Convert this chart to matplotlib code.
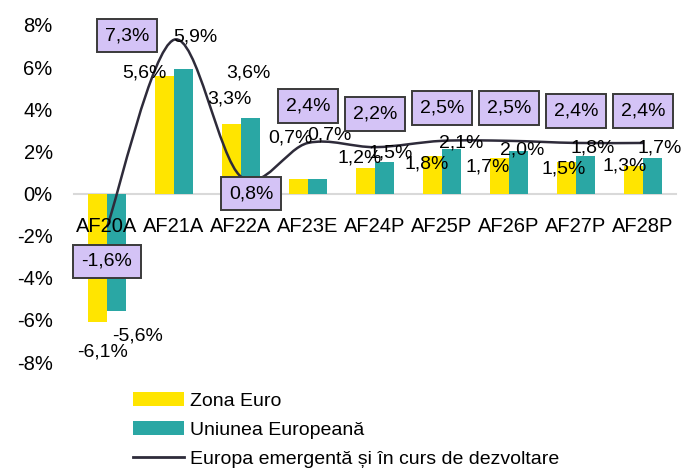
import matplotlib
matplotlib.use('Agg')
import matplotlib.pyplot as plt
from matplotlib.path import Path
from matplotlib.patches import PathPatch
from matplotlib import font_manager

# data (%)
categories = ['AF20A', 'AF21A', 'AF22A', 'AF23E', 'AF24P', 'AF25P', 'AF26P', 'AF27P', 'AF28P']
zona_euro = [-6.1, 5.6, 3.3, 0.7, 1.2, 1.8, 1.7, 1.5, 1.3]
uniunea_europeana = [-5.6, 5.9, 3.6, 0.7, 1.5, 2.1, 2.0, 1.8, 1.7]
europa_emergenta = [-1.6, 7.3, 0.8, 2.4, 2.2, 2.5, 2.5, 2.4, 2.4]
y_ticks = [-8, -6, -4, -2, 0, 2, 4, 6, 8]
legend_labels = ['Zona Euro', 'Uniunea Europeană', 'Europa emergentă și în curs de dezvoltare']

# label placement (offset in pixels from the point / bar end)
off_ze = [(5, -30), (-20, 3), (-2, 25), (-8, 41), (-6, 10), (-6, -8), (-12, -9), (-3, -7), (-9, 0)]
off_ue = [(21, -25), (12, 32), (-2, 45), (12, 44), (6, 9), (10, 6), (4, 1), (7, 8), (7, 10)]
off_em = [(0, -34), (-47, 4), (10, -17), (0, 37), (0, 33), (0, 33), (0, 33), (0, 32), (0, 32)]

YELLOW = '#FFE500'
TEAL = '#2AA7A4'
LINE = '#2E2B3A'
BOX = '#D4C3F6'

names = {f.name for f in font_manager.fontManager.ttflist}
if 'Liberation Sans Narrow' in names:
    narrow = 'Liberation Sans Narrow'
    big, mid = 17, 16
else:
    narrow = 'Liberation Sans'
    big, mid = 14.5, 14
plt.rcParams['font.family'] = ['Liberation Sans', 'DejaVu Sans']


def fmt(v):
    return f'{v:.1f}'.replace('.', ',') + '%'


fig = plt.figure(figsize=(6.84, 4.71), dpi=100)
ax = fig.add_axes([73.5 / 684, 1 - 362 / 471, 603 / 684, 337 / 471])

# zero line = bottom spine moved to 0 (do this before styling the ticks)
for s in ['top', 'right', 'left']:
    ax.spines[s].set_visible(False)
ax.spines['bottom'].set_position(('data', 0))
ax.spines['bottom'].set_color('#D9D9D9')
ax.spines['bottom'].set_linewidth(1.5)

x = list(range(len(categories)))
w = 0.285
b1 = ax.bar([i - w / 2 for i in x], zona_euro, w, color=YELLOW, zorder=3, label=legend_labels[0])
b2 = ax.bar([i + w / 2 for i in x], uniunea_europeana, w, color=TEAL, zorder=3, label=legend_labels[1])

# smoothed line like excel (catmull-rom as cubic bezier)
pts = list(zip(x, europa_emergenta))
verts = [pts[0]]
codes = [Path.MOVETO]
n = len(pts)
for i in range(n - 1):
    p0 = pts[max(i - 1, 0)]
    p1 = pts[i]
    p2 = pts[i + 1]
    p3 = pts[min(i + 2, n - 1)]
    c1 = (p1[0] + (p2[0] - p0[0]) / 6, p1[1] + (p2[1] - p0[1]) / 6)
    c2 = (p2[0] - (p3[0] - p1[0]) / 6, p2[1] - (p3[1] - p1[1]) / 6)
    verts += [c1, c2, p2]
    codes += [Path.CURVE4] * 3
ax.add_patch(PathPatch(Path(verts, codes), fill=False, edgecolor=LINE, lw=1.8, zorder=4))
line_handle, = ax.plot([], [], color=LINE, lw=2, label=legend_labels[2])

# bar labels
for i in x:
    for vals, offs, xc in ((zona_euro, off_ze, i - w / 2), (uniunea_europeana, off_ue, i + w / 2)):
        ax.annotate(fmt(vals[i]), xy=(xc, vals[i]), xytext=offs[i], textcoords='offset pixels',
                    ha='center', va='center', fontsize=mid, family=narrow, zorder=6)

# line labels in boxes
for i in x:
    ax.annotate(fmt(europa_emergenta[i]), xy=(i, europa_emergenta[i]), xytext=off_em[i],
                textcoords='offset pixels', ha='center', va='center', fontsize=mid, family=narrow,
                zorder=7, bbox=dict(boxstyle='square,pad=0.42', fc=BOX, ec='#3A3A3A', lw=1.4))

ax.set_xlim(-0.5, len(categories) - 0.5)
ax.set_ylim(-8, 8)
ax.set_yticks(y_ticks)
ax.set_yticklabels([f'{t}%' for t in y_ticks], fontsize=14.5)
ax.set_xticks(x)
ax.set_xticklabels(categories, fontsize=big, family=narrow)
ax.tick_params(axis='both', length=0)
ax.tick_params(axis='y', pad=15)
ax.tick_params(axis='x', pad=17)
ax.xaxis.set_zorder(6)

fig.legend(handles=[b1, b2, line_handle], loc='upper left', bbox_to_anchor=(133 / 684, 1 - 392 / 471),
           frameon=False, fontsize=14, handlelength=2.63, handletextpad=0.3, handleheight=0.7,
           labelspacing=0.6, borderpad=0, borderaxespad=0)

fig.savefig('out.png', dpi=100)
